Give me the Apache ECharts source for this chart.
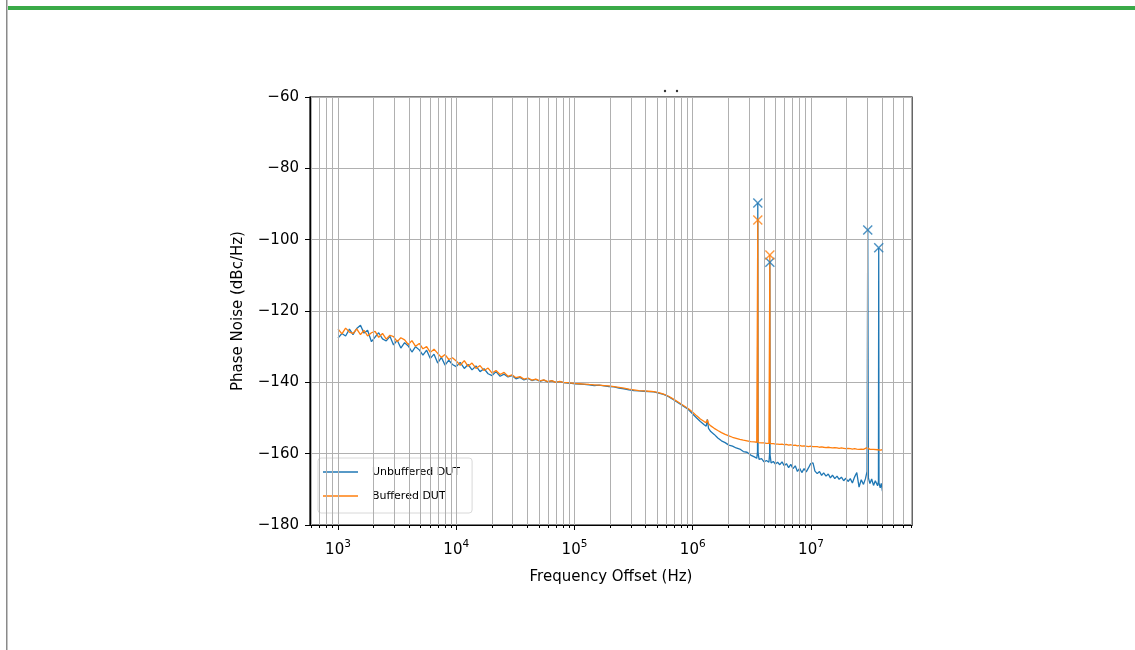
<!DOCTYPE html>
<html>
<head>
<meta charset="utf-8">
<script src="https://cdn.jsdelivr.net/npm/echarts@6/dist/echarts.min.js"></script>
<style>
    html, body { margin: 0; padding: 0; background: #fff; }
    #chart { width: 1135px; height: 650px; }
</style>
</head>
<body>
<div id="chart"></div>
<script>
// frequency offsets (Hz), shared by both traces
var freq = [
    1000, 1080, 1160, 1250, 1340, 1440, 1550, 1660, 1780, 1920,
    2060, 2210, 2380, 2560, 2750, 2950, 3170, 3400, 3660, 3930,
    4220, 4530, 4870, 5230, 5620, 6040, 6490, 6970, 7490, 8050,
    8650, 9290,
    10000, 10800, 11700, 12600, 13600, 14700, 15900, 17200, 18600, 20100,
    21700, 23500, 25400, 27400, 29600, 32000, 34600, 37400, 40400, 43600,
    47100, 50900, 55000, 59500, 64300, 69500, 75100, 81200, 87700, 94800,
    100000, 110000, 121000, 133000, 147000, 162000, 178000, 196000, 216000, 238000,
    262000, 289000, 318000, 350000, 386000, 425000, 468000, 515000, 567000, 625000,
    688000, 758000, 835000, 920000,
    1000000, 1080000, 1160000, 1250000, 1300000, 1330000, 1360000, 1420000, 1520000, 1630000,
    1750000, 1880000, 2020000, 2170000, 2330000, 2500000, 2680000, 2880000, 3090000, 3320000,
    3480000, 3530000, 3550000, 3570000, 3640000, 3820000, 4010000, 4200000, 4410000, 4470000,
    4490000, 4510000, 4600000, 4800000, 5000000, 5220000, 5450000, 5690000, 5940000, 6200000,
    6470000, 6750000, 7050000, 7360000, 7680000, 8020000, 8370000, 8740000, 9120000, 9520000,
    9940000, 10400000, 10800000, 11300000, 11800000, 12300000, 12800000, 13400000, 14000000, 14600000,
    15200000, 15900000, 16600000, 17300000, 18100000, 18900000, 19700000, 20600000, 21500000, 22400000,
    23400000, 24400000, 25500000, 26600000, 27800000, 28900000, 29800000, 30200000, 30600000, 31500000,
    32600000, 33800000, 35000000, 36600000, 37200000, 37400000, 37600000, 38500000, 39300000, 40200000
];

// Unbuffered DUT (dBc/Hz)
var unbuffered = [
    -127.6, -126.3, -127.0, -125.1, -126.6, -124.9, -124.0, -126.2, -125.4, -128.6,
    -127.3, -126.1, -127.8, -128.4, -127.1, -129.5, -128.2, -130.4, -128.9, -129.8,
    -131.5, -130.0, -130.9, -132.4, -131.0, -133.3, -132.1, -134.6, -133.0, -135.2,
    -133.8, -135.0,
    -135.6, -134.4, -136.1, -135.0, -136.5, -135.4, -137.0, -136.2, -137.6, -138.1,
    -137.0, -138.3, -137.7, -138.5, -138.1, -139.0, -138.6, -139.3, -138.9, -139.5,
    -139.2, -139.7, -139.4, -139.9, -139.6, -140.0, -139.8, -140.1, -140.2, -140.3,
    -140.4, -140.5, -140.6, -140.7, -140.9, -140.8, -141.0, -141.2, -141.3, -141.6,
    -141.8, -142.1, -142.3, -142.4, -142.5, -142.6, -142.7, -143.0, -143.4, -144.0,
    -144.9, -145.8, -146.7, -147.6,
    -148.9, -150.0, -151.0, -151.9, -152.3, -150.4, -152.9, -153.8, -154.6, -155.6,
    -156.4, -156.9, -157.6, -157.9, -158.4, -158.7, -159.4, -159.6, -160.4, -160.9,
    -161.3, -159.5, -89.7, -159.8, -161.6, -161.4, -162.3, -161.9, -162.4, -159.9,
    -106.3, -160.4, -162.6, -162.2, -162.9, -162.4, -163.1, -162.3, -163.4, -162.8,
    -163.9, -163.0, -164.2, -163.4, -165.0, -164.1, -165.3, -164.2, -165.1, -164.0,
    -162.8, -162.6, -164.9, -165.6, -165.0, -166.1, -165.4, -166.3, -165.7, -166.8,
    -166.0, -167.0, -166.3, -167.2, -166.6, -167.6, -166.9, -167.8, -167.0, -168.2,
    -166.5, -165.3, -169.4, -167.3, -168.6, -167.0, -165.0, -97.3, -166.8, -168.4,
    -167.1, -168.9, -167.6, -169.0, -167.8, -102.3, -168.2, -169.6, -168.3, -170.5
];

// Buffered DUT (dBc/Hz)
var buffered = [
    -125.0, -126.4, -124.8, -125.9, -126.3, -125.0, -126.6, -125.4, -127.0, -126.1,
    -125.7, -127.4, -126.3, -127.9, -126.8, -127.2, -128.6, -127.5, -128.1, -129.4,
    -128.3, -129.9, -129.1, -130.6, -130.0, -131.6, -130.7, -131.9, -133.0, -132.2,
    -133.6, -133.1,
    -134.0, -135.2, -133.9, -135.5, -134.6, -136.1, -135.3, -136.7, -136.0, -137.4,
    -136.7, -137.8, -137.2, -138.3, -137.9, -138.7, -138.4, -139.1, -138.8, -139.4,
    -139.1, -139.6, -139.3, -139.8, -139.5, -140.0, -139.7, -140.1, -140.1, -140.2,
    -140.3, -140.4, -140.5, -140.6, -140.7, -140.8, -140.9, -141.0, -141.2, -141.4,
    -141.6, -141.9, -142.1, -142.3, -142.4, -142.5, -142.6, -142.9, -143.3, -143.9,
    -144.7, -145.6, -146.5, -147.4,
    -148.4, -149.4, -150.3, -151.0, -151.3, -150.5, -151.6, -152.2, -152.9, -153.5,
    -154.1, -154.6, -155.0, -155.4, -155.7, -156.0, -156.2, -156.4, -156.6, -156.7,
    -156.8, -156.8, -94.5, -156.9, -156.9, -157.0, -157.0, -157.1, -157.1, -157.1,
    -104.3, -157.2, -157.2, -157.2, -157.3, -157.3, -157.4, -157.3, -157.5, -157.4,
    -157.6, -157.5, -157.7, -157.6, -157.8, -157.7, -157.9, -157.8, -157.9, -158.0,
    -157.9, -158.0, -158.1, -158.0, -158.2, -158.1, -158.2, -158.3, -158.2, -158.3,
    -158.4, -158.3, -158.4, -158.5, -158.4, -158.5, -158.6, -158.5, -158.6, -158.7,
    -158.6, -158.7, -158.8, -158.7, -158.8, -158.7, -158.3, -158.0, -158.6, -158.8,
    -158.9, -158.8, -158.9, -158.9, -158.8, -158.9, -158.9, -159.0, -158.9, -158.9
];

// spurs marked with an x
var unbufferedPeaks = [3550000, 4490000, 30200000, 37400000];
var bufferedPeaks = [3550000, 4490000];

var yTicks = [-180, -160, -140, -120, -100, -80, -60];

if (freq.length !== unbuffered.length || freq.length !== buffered.length) {
    console.error('length mismatch', freq.length, unbuffered.length, buffered.length);
}

var blue = '#1f77b4';
var orange = '#ff7f0e';
var font = 'DejaVu Sans';

function pairs(vals) {
    return freq.map(function (f, i) { return [f, vals[i]]; });
}
function peakPoints(list, vals) {
    return list.map(function (f) { return [f, vals[freq.indexOf(f)]]; });
}

// log grid: 1..9 x 10^n inside the axis range
var xMin = 580, xMax = 71500000;
var majors = [], minors = [];
for (var d = 2; d <= 7; d++) {
    for (var k = 1; k <= 9; k++) {
        var v = k * Math.pow(10, d);
        if (v < xMin || v > xMax) continue;
        (k === 1 ? majors : minors).push(v);
    }
}

var xMark = 'path://M0,1L1,0L5,4L9,0L10,1L6,5L10,9L9,10L5,6L1,10L0,9L4,5Z';
// thin line centred in a 35x14 box (the moveTo corners keep the box size)
var lineIcon = 'path://M0,0M0,6.3L35,6.3L35,7.7L0,7.7ZM35,14';

var myChart = echarts.init(document.getElementById('chart'));
var option = {
    animation: false,
    grid: {
        left: 310, top: 97, width: 602, height: 428,
        show: true, borderColor: '#000', borderWidth: 1.2
    },
    legend: {
        data: [
            { name: 'Unbuffered DUT', icon: lineIcon },
            { name: 'Buffered DUT', icon: lineIcon }
        ],
        orient: 'vertical',
        left: 318, top: 458,
        padding: [7, 12, 10, 5],
        itemWidth: 35, itemHeight: 14, itemGap: 10,
        backgroundColor: 'rgba(255,255,255,0.8)',
        borderColor: '#d8d8d8', borderWidth: 1, borderRadius: 3,
        textStyle: { fontFamily: font, fontSize: 11, color: '#000', padding: [0, 0, 0, 9] }
    },
    xAxis: [{
        type: 'log', logBase: 10, min: xMin, max: xMax,
        name: 'Frequency Offset (Hz)', nameLocation: 'middle', nameGap: 45,
        nameTextStyle: { fontFamily: font, fontSize: 15, color: '#000' },
        axisLine: { show: true, lineStyle: { color: '#000', width: 1.2 } },
        axisTick: { show: true, length: 5, customValues: majors, lineStyle: { color: '#000' } },
        splitLine: { show: false },
        axisLabel: {
            margin: 14,
            customValues: majors,
            formatter: function (val) {
                return '{b|10}{s|' + Math.round(Math.log10(val)) + '}';
            },
            rich: {
                b: { fontFamily: font, fontSize: 15, color: '#000', lineHeight: 19, verticalAlign: 'bottom' },
                s: { fontFamily: font, fontSize: 10.5, color: '#000', lineHeight: 12, verticalAlign: 'top' }
            }
        }
    }, {
        // minor ticks
        type: 'log', logBase: 10, min: xMin, max: xMax, position: 'bottom',
        axisLine: { show: false },
        axisTick: { show: true, length: 3, customValues: minors, lineStyle: { color: '#000' } },
        axisLabel: { show: false },
        splitLine: { show: false }
    }],
    yAxis: {
        type: 'value', min: yTicks[0], max: yTicks[yTicks.length - 1], interval: 20,
        name: 'Phase Noise (dBc/Hz)', nameLocation: 'middle', nameGap: 64,
        nameTextStyle: { fontFamily: font, fontSize: 15, color: '#000' },
        axisLine: { show: true, lineStyle: { color: '#000', width: 1.2 } },
        axisTick: { show: true, length: 5, lineStyle: { color: '#000' } },
        splitLine: { show: true, lineStyle: { color: '#b0b0b0', width: 1 } },
        axisLabel: {
            margin: 11, fontFamily: font, fontSize: 15, color: '#000',
            formatter: function (v) { return (v < 0 ? '\u2212' : '') + Math.abs(v); }
        }
    },
    series: [
        {
            // vertical grid lines (major and minor)
            type: 'line', data: [], silent: true, z: 1,
            markLine: {
                silent: true, symbol: 'none', label: { show: false },
                lineStyle: { color: '#b0b0b0', width: 1, type: 'solid' },
                emphasis: { disabled: true },
                data: majors.concat(minors).map(function (f) { return { xAxis: f }; })
            }
        },
        {
            name: 'Unbuffered DUT', type: 'line', symbol: 'none', z: 3,
            data: pairs(unbuffered),
            lineStyle: { color: blue, width: 1.3 }, itemStyle: { color: blue }
        },
        {
            name: 'Buffered DUT', type: 'line', symbol: 'none', z: 4,
            data: pairs(buffered),
            lineStyle: { color: orange, width: 1.3 }, itemStyle: { color: orange }
        },
        {
            type: 'scatter', z: 5, symbol: xMark, symbolSize: 10,
            data: peakPoints(unbufferedPeaks, unbuffered),
            itemStyle: { color: blue }
        },
        {
            type: 'scatter', z: 5, symbol: xMark, symbolSize: 10,
            data: peakPoints(bufferedPeaks, buffered),
            itemStyle: { color: orange }
        }
    ],
    graphic: [
        { type: 'rect', left: 8, top: 6, shape: { width: 1127, height: 4 }, style: { fill: '#3aaa48' } },
        { type: 'rect', left: 6, top: 0, shape: { width: 1.5, height: 650 }, style: { fill: '#8a8a8a' } },
        { type: 'circle', shape: { cx: 665, cy: 91, r: 1.2 }, style: { fill: '#333' } },
        { type: 'circle', shape: { cx: 677, cy: 91, r: 1.2 }, style: { fill: '#333' } }
    ]
};
myChart.setOption(option);
</script>
</body>
</html>
